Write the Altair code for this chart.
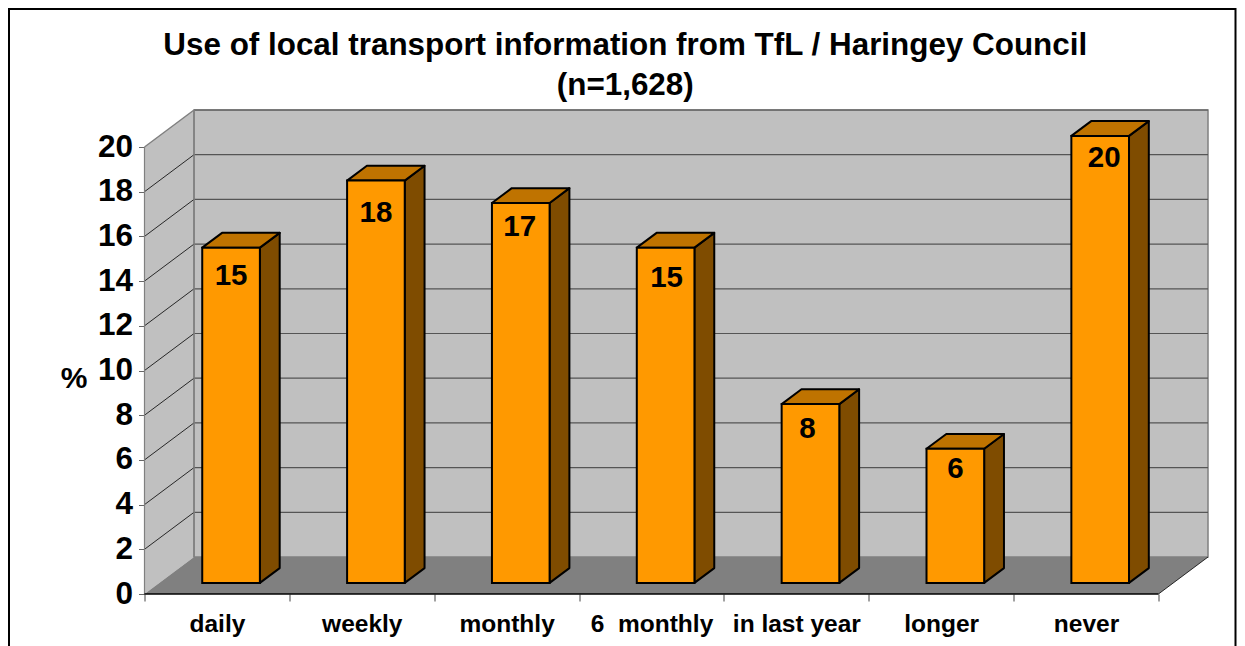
import json
import altair as alt
import pandas as pd

categories = ["daily", "weekly", "monthly", "6\u00a0\u00a0monthly", "in last year", "longer", "never"]
values = [15, 18, 17, 15, 8, 6, 20]
y_ticks = list(range(0, 21, 2))
title_lines = ["Use of local transport information from TfL / Haringey Council", "(n=1,628)"]

# 3D projection: how far one unit of depth moves a point, in axis units
DX, DY = 49.5 / 144.8, 37 / 22.35
YMAX = 20
N = len(categories)
D1, D2 = 0.30, 0.70      # bar's front and back, as a share of the depth
L, R = 0.296, 0.694      # bar's left and right, as a share of a category
label_dy = [28, 32, 24, 30, 25, 20, 22]
label_dx = [0, 0, -1, 1, -3, 0, 4]

FONT = "Liberation Sans"
xs = alt.Scale(domain=[0, N + DX], nice=False, zero=False)
ys = alt.Scale(domain=[0, YMAX + DY], nice=False, zero=False)

label_expr = "datum.value % 1 == 0 ? '' : " + json.dumps(categories) + "[floor(datum.value)]"
x_axis = alt.Axis(
    values=[k / 2 for k in range(0, 2 * N + 1)],
    labelExpr=label_expr, domain=False, grid=False, tickSize=7, tickColor="#444444",
    tickWidth=1, tickOpacity={"condition": {"test": "datum.value % 1 != 0", "value": 0}, "value": 1},
    labelFont=FONT, labelFontSize=24.5, labelFontWeight="bold", labelColor="black",
    labelPadding=11, labelOverlap=False, labelBound=False, labelFlush=False)
y_axis = alt.Axis(
    values=y_ticks, domain=False, grid=False, tickSize=6, tickColor="#666666", tickWidth=1,
    labelFont=FONT, labelFontSize=31.5, labelFontWeight="bold", labelColor="black",
    labelPadding=6, labelOverlap=False, labelBound=False, labelFlush=False,
    titleFont=FONT, titleFontSize=30, titleFontWeight="bold", titleColor="black",
    titleAngle=0, titleX=-71, titleY=268, titleAlign="center", titleBaseline="middle")
X = lambda f: alt.X(f, type="quantitative", scale=xs, axis=x_axis, title=None)
Y = lambda f: alt.Y(f, type="quantitative", scale=ys, axis=y_axis, title="%")

# walls and floor
side_wall = pd.DataFrame({"x": [0, DX], "y0": [0, DY], "y1": [YMAX, YMAX + DY]})
floor = pd.DataFrame({"y": [0, DY], "x0": [0, DX], "x1": [N, N + DX]})
back_wall = pd.DataFrame({"x0": [DX], "x1": [N + DX], "y0": [DY], "y1": [YMAX + DY]})
grid = pd.DataFrame({"v": y_ticks[1:]})
grid["back"] = grid.v + DY
grid["x0"], grid["x1"], grid["x2"] = 0, DX, N + DX

# bar faces
front = pd.DataFrame({
    "i": range(N), "v": values,
    "x0": [i + L + D1 * DX for i in range(N)],
    "x1": [i + R + D1 * DX for i in range(N)],
    "y0": D1 * DY,
    "y1": [v + D1 * DY for v in values],
})
front["xc"] = (front.x0 + front.x1) / 2
side = pd.DataFrame([
    {"i": i, "x": i + R + d * DX, "y0": d * DY, "y1": v + d * DY}
    for i, v in enumerate(values) for d in (D1, D2)
])
top = pd.DataFrame([
    {"i": i, "y": v + d * DY, "x0": i + L + d * DX, "x1": i + R + d * DX}
    for i, v in enumerate(values) for d in (D1, D2)
])

one = pd.DataFrame({"a": [0]})
frame = alt.Chart(one).mark_rect(fill="white", fillOpacity=0, stroke="black", strokeWidth=2).encode(
    x=alt.value(-135.5), x2=alt.value(1091), y=alt.value(-101), y2=alt.value(560)
)

WALL = "#c0c0c0"
EDGE = "#808080"
layers = [
    frame,
    alt.Chart(side_wall).mark_area(color=WALL, orient="vertical").encode(x=X("x"), y=Y("y0"), y2="y1"),
    alt.Chart(back_wall).mark_rect(fill=WALL, stroke=EDGE, strokeWidth=1.5).encode(
        x=X("x0"), x2="x1", y=Y("y0"), y2="y1"),
    alt.Chart(floor).mark_area(color=EDGE, orient="horizontal").encode(y=Y("y"), x=X("x0"), x2="x1"),
    # grid on the back wall and on the side wall
    alt.Chart(grid).mark_rule(color="#555555", strokeWidth=1.2).encode(
        x=X("x1"), x2="x2", y=Y("back")),
    alt.Chart(grid[grid.v < YMAX]).mark_rule(color="black", strokeWidth=0.8).encode(
        x=X("x0"), x2="x1", y=Y("v"), y2="back"),
    # wall edges
    alt.Chart(side_wall.iloc[[1]]).mark_rule(color=EDGE, strokeWidth=1.5).encode(x=X("x"), y=Y("y0"), y2="y1"),
    alt.Chart(pd.DataFrame({"x0": [0], "x1": [DX], "y0": [YMAX], "y1": [YMAX + DY]})).mark_rule(
        color=EDGE, strokeWidth=1.5).encode(x=X("x0"), x2="x1", y=Y("y0"), y2="y1"),
    alt.Chart(pd.DataFrame({"x": [0], "y0": [0], "y1": [YMAX]})).mark_rule(
        color=EDGE, strokeWidth=1.2).encode(x=X("x"), y=Y("y0"), y2="y1"),
    alt.Chart(pd.DataFrame({"x0": [N], "x1": [N + DX], "y0": [0], "y1": [DY]})).mark_rule(
        color="black", strokeWidth=0.8).encode(x=X("x0"), x2="x1", y=Y("y0"), y2="y1"),
    alt.Chart(pd.DataFrame({"x0": [0], "x1": [N], "y": [0]})).mark_rule(
        color="black", strokeWidth=1.5).encode(x=X("x0"), x2="x1", y=Y("y")),
    # bars
    alt.Chart(side).mark_area(fill="#7f4c00", stroke="black", strokeWidth=2, orient="vertical",
                              strokeJoin="round").encode(
        x=X("x"), y=Y("y0"), y2="y1", detail="i:N"),
    alt.Chart(top).mark_area(fill="#bf7300", stroke="black", strokeWidth=2, orient="horizontal",
                             strokeJoin="round").encode(
        y=Y("y"), x=X("x0"), x2="x1", detail="i:N"),
    alt.Chart(front).mark_rect(fill="#ff9900", stroke="black", strokeWidth=2).encode(
        x=X("x0"), x2="x1", y=Y("y0"), y2="y1"),
]
for i, (dy, dx) in enumerate(zip(label_dy, label_dx)):
    layers.append(
        alt.Chart(front.iloc[[i]]).mark_text(
            font=FONT, fontSize=29.5, fontWeight="bold", color="black", dy=dy, dx=dx, baseline="middle"
        ).encode(x=X("xc"), y=Y("y1"), text="v:Q")
    )

chart = alt.layer(*layers).properties(
    width=1063.5, height=484,
    autosize=alt.AutoSizeParams(type="none"),
    padding={"left": 136.5, "top": 102, "right": 29, "bottom": 52},
    background="white",
    title=alt.TitleParams(
        text=title_lines, font=FONT, fontSize=31.4, fontWeight="bold", color="black",
        lineHeight=40, anchor="middle", dx=-51, dy=93, offset=0),
).configure_view(stroke=None)

chart.save("out.html", embed_options={"renderer": "svg", "actions": False})
